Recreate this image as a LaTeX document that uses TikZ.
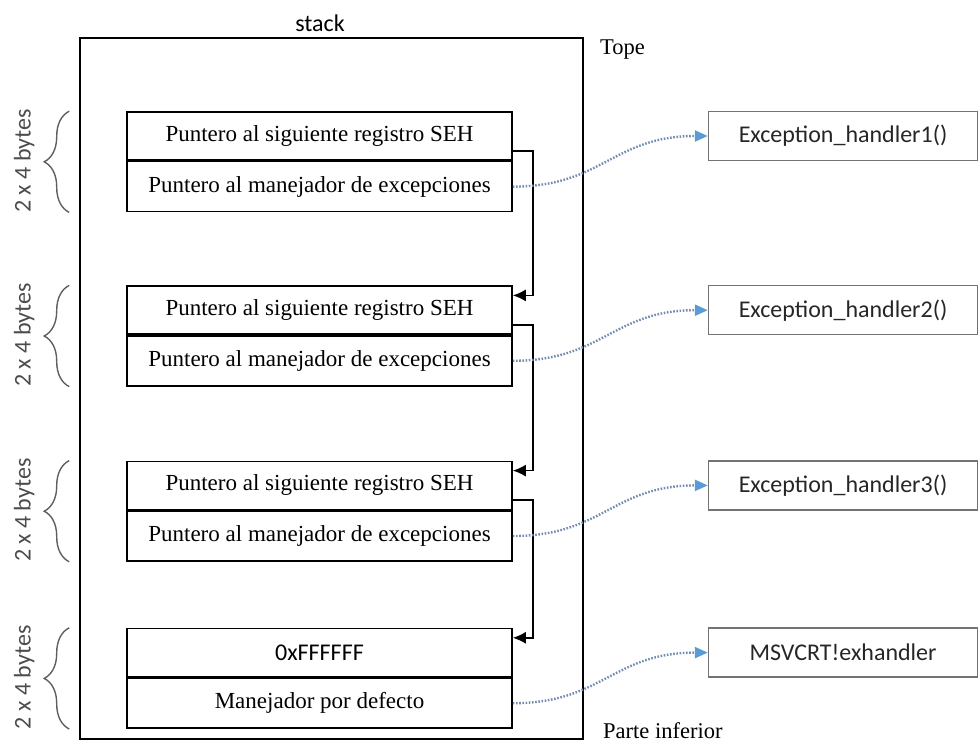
\documentclass[tikz,border=0pt]{standalone}
\usepackage{fontspec}
\setmainfont{Liberation Serif}
\newfontfamily\calibrifont{Carlito}
\usetikzlibrary{positioning,calc,arrows.meta,decorations.pathreplacing}

\definecolor{linkblue}{RGB}{91,155,213}
\definecolor{dotgray}{RGB}{115,140,175}
\definecolor{bracegray}{RGB}{95,95,95}

\begin{document}
\begin{tikzpicture}[x=1pt, y=-1pt,
        field/.style={draw, line width=1.6pt, rectangle, minimum height=48pt, minimum width=385pt, inner sep=0pt, align=center, font=\fontsize{23}{26}\selectfont},
        handler/.style={draw=black!55, line width=1.5pt, rectangle, minimum height=49pt, minimum width=269pt, inner sep=0pt, font=\calibrifont\fontsize{24}{28}\selectfont, text=black!85},
        sizelabel/.style={rotate=90, inner sep=0pt, font=\calibrifont\fontsize{24}{28}\selectfont, text=black!70},
        sizebrace/.style={decorate, decoration={brace, amplitude=25pt}, draw=bracegray, line width=1.4pt},
        nextptr/.style={-{Latex[length=13pt,width=12pt]}, line width=1.6pt},
        handptr/.style={-{Triangle[length=13pt,width=11pt,color=linkblue,fill=linkblue]}, draw=dotgray, line width=2.4pt, dash pattern=on 1.6pt off 1.6pt},
        side/.style={inner sep=0pt, font=\fontsize{22.5}{26}\selectfont}
    ]
        \useasboundingbox (0,0) rectangle (980,742);

        % Stack
        \node [draw, line width=1.8pt, minimum width=503pt, minimum height=701pt] (stack) at (331.5,388.5) {};
        \node [font=\calibrifont\fontsize{24}{28}\selectfont, inner sep=0pt] (stacklabel) at (320,23) {stack};
        \node [side, anchor=west] (tope) at (600,50) {Tope};
        \node [side, anchor=west] (bottom) at (603,731) {Parte inferior};

        % SEH records
        \node [field] (rec1a) at (319.5,136) {Puntero al siguiente registro SEH};
        \node [field, minimum height=50pt, below=0pt of rec1a] (rec1b) {Puntero al manejador de excepciones};
        \node [field, below=73pt of rec1b] (rec2a) {Puntero al siguiente registro SEH};
        \node [field, minimum height=50pt, below=0pt of rec2a] (rec2b) {Puntero al manejador de excepciones};
        \node [field, below=74pt of rec2b] (rec3a) {Puntero al siguiente registro SEH};
        \node [field, minimum height=50pt, below=0pt of rec3a] (rec3b) {Puntero al manejador de excepciones};
        \node [field, below=66pt of rec3b] (rec4a) {\calibrifont\fontsize{24}{28}\selectfont 0xFFFFFF};
        \node [field, minimum height=50pt, below=0pt of rec4a] (rec4b) {Manejador por defecto};

        % Handlers
        \node [handler, right=195pt of rec1a] (hand1) {Exception\_handler1()};
        \node [handler, right=195pt of rec2a] (hand2) {Exception\_handler2()};
        \node [handler, right=195pt of rec3a] (hand3) {Exception\_handler3()};
        \node [handler, right=195pt of rec4a] (hand4) {MSVCRT!exhandler};

        % Sizes
        \draw [sizebrace] ([xshift=-57pt]rec1b.south west) -- ([xshift=-57pt]rec1a.north west);
        \draw [sizebrace] ([xshift=-57pt]rec2b.south west) -- ([xshift=-57pt]rec2a.north west);
        \draw [sizebrace] ([xshift=-57pt]rec3b.south west) -- ([xshift=-57pt]rec3a.north west);
        \draw [sizebrace] ([xshift=-57pt]rec4b.south west) -- ([xshift=-57pt]rec4a.north west);
        \node [sizelabel] (size1) at ([xshift=-102pt]rec1a.south west) {2 x 4 bytes};
        \node [sizelabel] (size2) at ([xshift=-102pt]rec2a.south west) {2 x 4 bytes};
        \node [sizelabel] (size3) at ([xshift=-102pt]rec3a.south west) {2 x 4 bytes};
        \node [sizelabel] (size4) at ([xshift=-102pt]rec4a.south west) {2 x 4 bytes};

        % Chain
        \draw [nextptr] ([yshift=10pt]rec1a.south east) -- ++(20,0) |- ([yshift=-10pt]rec2a.north east);
        \draw [nextptr] ([yshift=10pt]rec2a.south east) -- ++(20,0) |- ([yshift=-10pt]rec3a.north east);
        \draw [nextptr] ([yshift=10pt]rec3a.south east) -- ++(20,0) |- ([yshift=-10pt]rec4a.north east);

        % Handler pointers
        \draw [handptr] (rec1b.east) .. controls +(90,0) and +(-95,0) .. (hand1.west);
        \draw [handptr] (rec2b.east) .. controls +(90,0) and +(-95,0) .. (hand2.west);
        \draw [handptr] (rec3b.east) .. controls +(90,0) and +(-95,0) .. (hand3.west);
        \draw [handptr] (rec4b.east) .. controls +(90,0) and +(-95,0) .. (hand4.west);
    \end{tikzpicture}
\end{document}
